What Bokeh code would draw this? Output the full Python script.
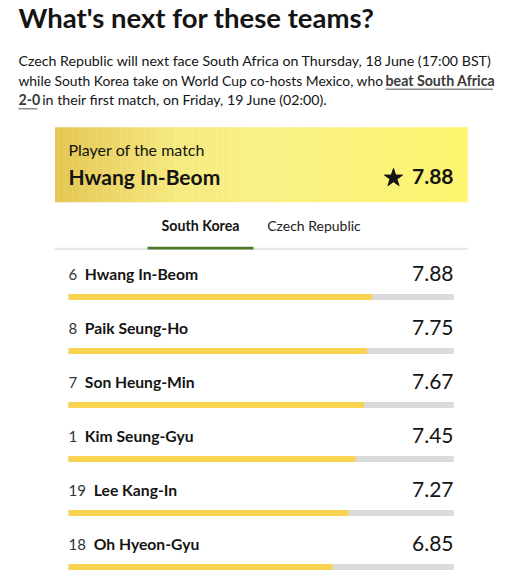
from bokeh.plotting import figure
from bokeh.models import Range1d
from bokeh.core.properties import value
from bokeh.embed import file_html
from bokeh.resources import INLINE

# ---------------- data ----------------
title_text = "What's next for these teams?"
para_line1 = "Czech Republic will next face South Africa on Thursday, 18 June (17:00 BST)"
para_line2 = "while South Korea take on World Cup co-hosts Mexico, who"
para_link1 = "beat South Africa"
para_link2 = "2-0"
para_line3 = "in their first match, on Friday, 19 June (02:00)."
potm_label = "Player of the match"
potm_name = "Hwang In-Beom"
potm_rating = "7.88"
tabs = ["South Korea", "Czech Republic"]
numbers = ["6", "8", "7", "1", "19", "18"]
players = ["Hwang In-Beom", "Paik Seung-Ho", "Son Heung-Min", "Kim Seung-Gyu", "Lee Kang-In", "Oh Hyeon-Gyu"]
ratings = [7.88, 7.75, 7.67, 7.45, 7.27, 6.85]
scale_max = 10

# ---------------- layout ----------------
W, H = 530, 572
FONT = "Lato"
DARK = "#141414"
BAR_LEFT, BAR_RIGHT = 68.0, 453.3
ROW0, ROW_STEP = 280.0, 54.0
K = 0.4  # empirical baseline correction (fraction of font size)

p = figure(width=W, height=H, output_backend="svg", toolbar_location=None,
           x_range=Range1d(0, W), y_range=Range1d(H, 0),
           min_border=0, outline_line_color=None)
p.axis.visible = False
p.grid.visible = False
p.background_fill_color = "white"
p.border_fill_color = "white"

ppu = (BAR_RIGHT - BAR_LEFT) / scale_max
p.extra_x_ranges = {"score": Range1d(-BAR_LEFT / ppu, scale_max + (W - BAR_RIGHT) / ppu)}


def txt(x, y, t, size, bold=False, color=DARK, align="left"):
    p.text(x=[x], y=[y - K * size], text=[t], text_font=value(FONT), text_font_size=f"{size}px",
           text_font_style="bold" if bold else "normal", text_color=color,
           text_align=align, text_baseline="alphabetic")


# title
txt(18, 28, title_text, 27.5, bold=True)

# paragraph
PS = 14.2
txt(18, 66, para_line1, PS)
txt(18, 85.5, para_line2, 13.85)
txt(385, 85.5, para_link1, PS, bold=True, color="#3a3a3a")
p.quad(left=[385], right=[492.5], top=[88], bottom=[89.5], fill_color="#8c8c8c", line_color=None)
txt(18, 105, para_link2, PS, bold=True, color="#3a3a3a")
p.quad(left=[18], right=[37], top=[107.5], bottom=[109], fill_color="#8c8c8c", line_color=None)
txt(41.7, 105, para_line3, PS)

# player of the match box (gradient strips)
bx0, bx1, by0, by1 = 54.5, 467.0, 126.7, 201.7
stops = [(0.0, (228, 197, 82)), (0.3, (246, 234, 128)), (0.5, (248, 240, 134)), (1.0, (253, 245, 108))]
n = 120
lefts, rights, cols = [], [], []
for i in range(n):
    t = (i + 0.5) / n
    for k in range(len(stops) - 1):
        if stops[k][0] <= t <= stops[k + 1][0]:
            a, ca = stops[k]
            b, cb = stops[k + 1]
            f = (t - a) / (b - a)
            c = tuple(int(round(ca[j] + (cb[j] - ca[j]) * f)) for j in range(3))
            break
    lefts.append(bx0 + (bx1 - bx0) * i / n)
    rights.append(bx0 + (bx1 - bx0) * (i + 1) / n + 0.3)
    cols.append("#%02x%02x%02x" % c)
p.quad(left=lefts, right=rights, top=[by0] * n, bottom=[by1] * n, fill_color=cols, line_color=None)

txt(68, 155, potm_label, 16)
txt(68, 184, potm_name, 21, bold=True)
p.scatter(x=[393], y=[177.5], marker="star", size=19, fill_color=DARK, line_color=DARK)
txt(453, 184, potm_rating, 21, bold=True, align="right")

# tabs
txt(200, 231, tabs[0], 14.2, bold=True, align="center")
txt(266.7, 231, tabs[1], 14, color="#222222")
p.quad(left=[bx0], right=[bx1], top=[247.3], bottom=[249.5], fill_color="#e6e6e6", line_color=None)
p.quad(left=[147], right=[253], top=[246.3], bottom=[249], fill_color="#4a7a2a", line_color=None)

# rows
name_y = [ROW0 + ROW_STEP * i for i in range(len(players))]
val_y = [y + 1.5 for y in name_y]
bar_y = [y + 16.5 for y in name_y]
name_x = [84.3 if len(nm) == 1 else 93.3 for nm in numbers]

p.text(x=[68] * len(numbers), y=[y - K * 15 for y in name_y], text=numbers, text_font=value(FONT),
       text_font_size="15px", text_color="#333333", text_baseline="alphabetic")
p.text(x=name_x, y=[y - K * 15.7 for y in name_y], text=players, text_font=value(FONT),
       text_font_size="15.7px", text_font_style="bold", text_color=DARK, text_baseline="alphabetic")
p.text(x=[453] * len(ratings), y=[y - K * 21 for y in val_y], text=["%.2f" % r for r in ratings],
       text_font=value(FONT), text_font_size="21px", text_color=DARK, text_align="right",
       text_baseline="alphabetic")

p.hbar(y=bar_y, left=0, right=[scale_max] * len(ratings), height=6, fill_color="#dadada",
       line_color=None, x_range_name="score")
p.hbar(y=bar_y, left=0, right=ratings, height=6, fill_color="#f8d34f",
       line_color=None, x_range_name="score")

open("out.html", "w").write(file_html(p, INLINE))
